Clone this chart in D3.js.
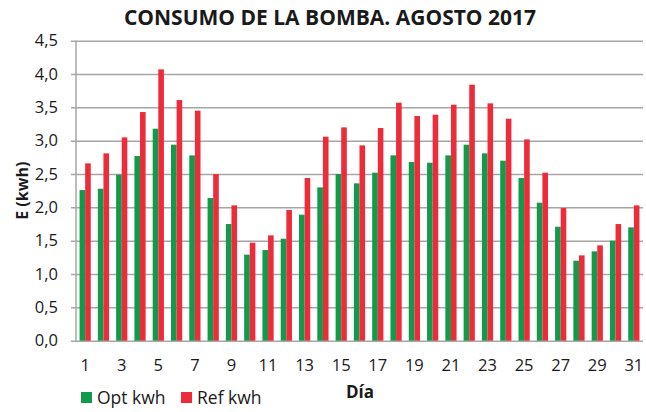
<!DOCTYPE html>
<html>
<head>
<meta charset="utf-8">
<script src="https://cdn.jsdelivr.net/npm/d3@7"></script>
<style>
    body { margin: 0; background: #fff; }
    text { font-family: "Open Sans", sans-serif; fill: #1a1a1a; }
</style>
</head>
<body>
<svg></svg>
<script>
// Días del mes y consumo de cada día (kWh)
var days = [1, 2, 3, 4, 5, 6, 7, 8, 9, 10, 11, 12, 13, 14, 15, 16,
            17, 18, 19, 20, 21, 22, 23, 24, 25, 26, 27, 28, 29, 30, 31];
var optKwh = [2.26, 2.28, 2.49, 2.77, 3.18, 2.94, 2.78, 2.14, 1.75, 1.29, 1.36,
              1.53, 1.89, 2.30, 2.50, 2.36, 2.52, 2.78, 2.68, 2.67, 2.78, 2.94,
              2.81, 2.70, 2.44, 2.07, 1.71, 1.20, 1.34, 1.50, 1.70];
var refKwh = [2.66, 2.81, 3.05, 3.43, 4.07, 3.61, 3.45, 2.50, 2.03, 1.47, 1.58,
              1.96, 2.44, 3.06, 3.20, 2.93, 3.19, 3.57, 3.37, 3.39, 3.54, 3.84,
              3.56, 3.33, 3.02, 2.52, 1.99, 1.28, 1.43, 1.75, 2.03];
var seriesNames = ['Opt kwh', 'Ref kwh'];
var seriesColors = ['#129a4a', '#ec2b3b'];
var yTicks = [0, 0.5, 1, 1.5, 2, 2.5, 3, 3.5, 4, 4.5];

var width = 646;
var height = 412;
var plot = { left: 76, right: 643, top: 40.7, bottom: 340.7 };

var svg = d3.select('svg')
    .attr('width', width)
    .attr('height', height)
;

var xScale = d3.scaleBand()
    .domain(days)
    .range([plot.left, plot.right])
    .paddingInner(0.387)
    .paddingOuter(0.194)
;

var xSeries = d3.scaleBand()
    .domain([0, 1])
    .range([0, xScale.bandwidth()])
;

var yScale = d3.scaleLinear()
    .domain([0, 4.5])
    .range([plot.bottom, plot.top])
;

var fmt = function(v) {
    return d3.format('.1f')(v).replace('.', ',');
};

// Gridlines + y axis
var yAxis = d3.axisLeft(yScale)
    .tickValues(yTicks)
    .tickFormat(fmt)
    .tickSize(-(plot.right - plot.left + 5))
;

var yG = svg.append('g')
    .attr('transform', 'translate(' + (plot.left - 5) + ',0)')
    .call(yAxis)
;
yG.select('.domain').remove();
yG.selectAll('.tick line')
    .attr('stroke', '#a6a6a6')
    .attr('stroke-width', 1.5)
;
yG.selectAll('.tick text')
    .attr('x', -13)
    .style('font-size', '16.5px')
    .style('font-family', '"Open Sans", sans-serif')
    .attr('fill', '#1a1a1a')
;

svg.append('line')
    .attr('x1', plot.left)
    .attr('x2', plot.left)
    .attr('y1', plot.top)
    .attr('y2', plot.bottom)
    .attr('stroke', '#a6a6a6')
    .attr('stroke-width', 1.5)
;

// Bars
var groups = svg.selectAll('.day')
    .data(days)
    .enter()
    .append('g')
    .classed('day', true)
    .attr('transform', function(d) {
        return 'translate(' + xScale(d) + ',0)';
    })
;

groups.selectAll('rect')
    .data(function(d, i) {
        return [optKwh[i], refKwh[i]];
    })
    .enter()
    .append('rect')
    .attr('x', function(d, j) { return xSeries(j); })
    .attr('y', function(d) { return yScale(d); })
    .attr('width', xSeries.bandwidth())
    .attr('height', function(d) { return plot.bottom - yScale(d); })
    .attr('fill', function(d, j) { return seriesColors[j]; })
;

// X labels (días impares)
svg.selectAll('.xlabel')
    .data(days.filter(function(d) { return d % 2 === 1; }))
    .enter()
    .append('text')
    .classed('xlabel', true)
    .attr('x', function(d) { return xScale(d) + xScale.bandwidth() / 2; })
    .attr('y', 371)
    .attr('text-anchor', 'middle')
    .style('font-size', '16.5px')
    .text(function(d) { return d; })
;

// Titles
svg.append('text')
    .attr('x', 330)
    .attr('y', 25)
    .attr('text-anchor', 'middle')
    .style('font-size', '21px')
    .style('font-weight', 'bold')
    .text('CONSUMO DE LA BOMBA. AGOSTO 2017')
;

svg.append('text')
    .attr('transform', 'translate(27.5,' + ((plot.top + plot.bottom) / 2) + ') rotate(-90)')
    .attr('text-anchor', 'middle')
    .style('font-size', '16px')
    .style('font-weight', 'bold')
    .text('E (kwh)')
;

svg.append('text')
    .attr('x', 360)
    .attr('y', 398)
    .attr('text-anchor', 'middle')
    .style('font-size', '17px')
    .style('font-weight', 'bold')
    .text('Día')
;

// Legend
var legend = svg.selectAll('.legend')
    .data(seriesNames)
    .enter()
    .append('g')
    .classed('legend', true)
    .attr('transform', function(d, i) {
        return 'translate(' + (81 + i * 100) + ',392)';
    })
;
legend.append('rect')
    .attr('width', 11)
    .attr('height', 11)
    .attr('fill', function(d, i) { return seriesColors[i]; })
;
legend.append('text')
    .attr('x', 16)
    .attr('y', 12)
    .style('font-size', '17.5px')
    .text(function(d) { return d; })
;
</script>
</body>
</html>
